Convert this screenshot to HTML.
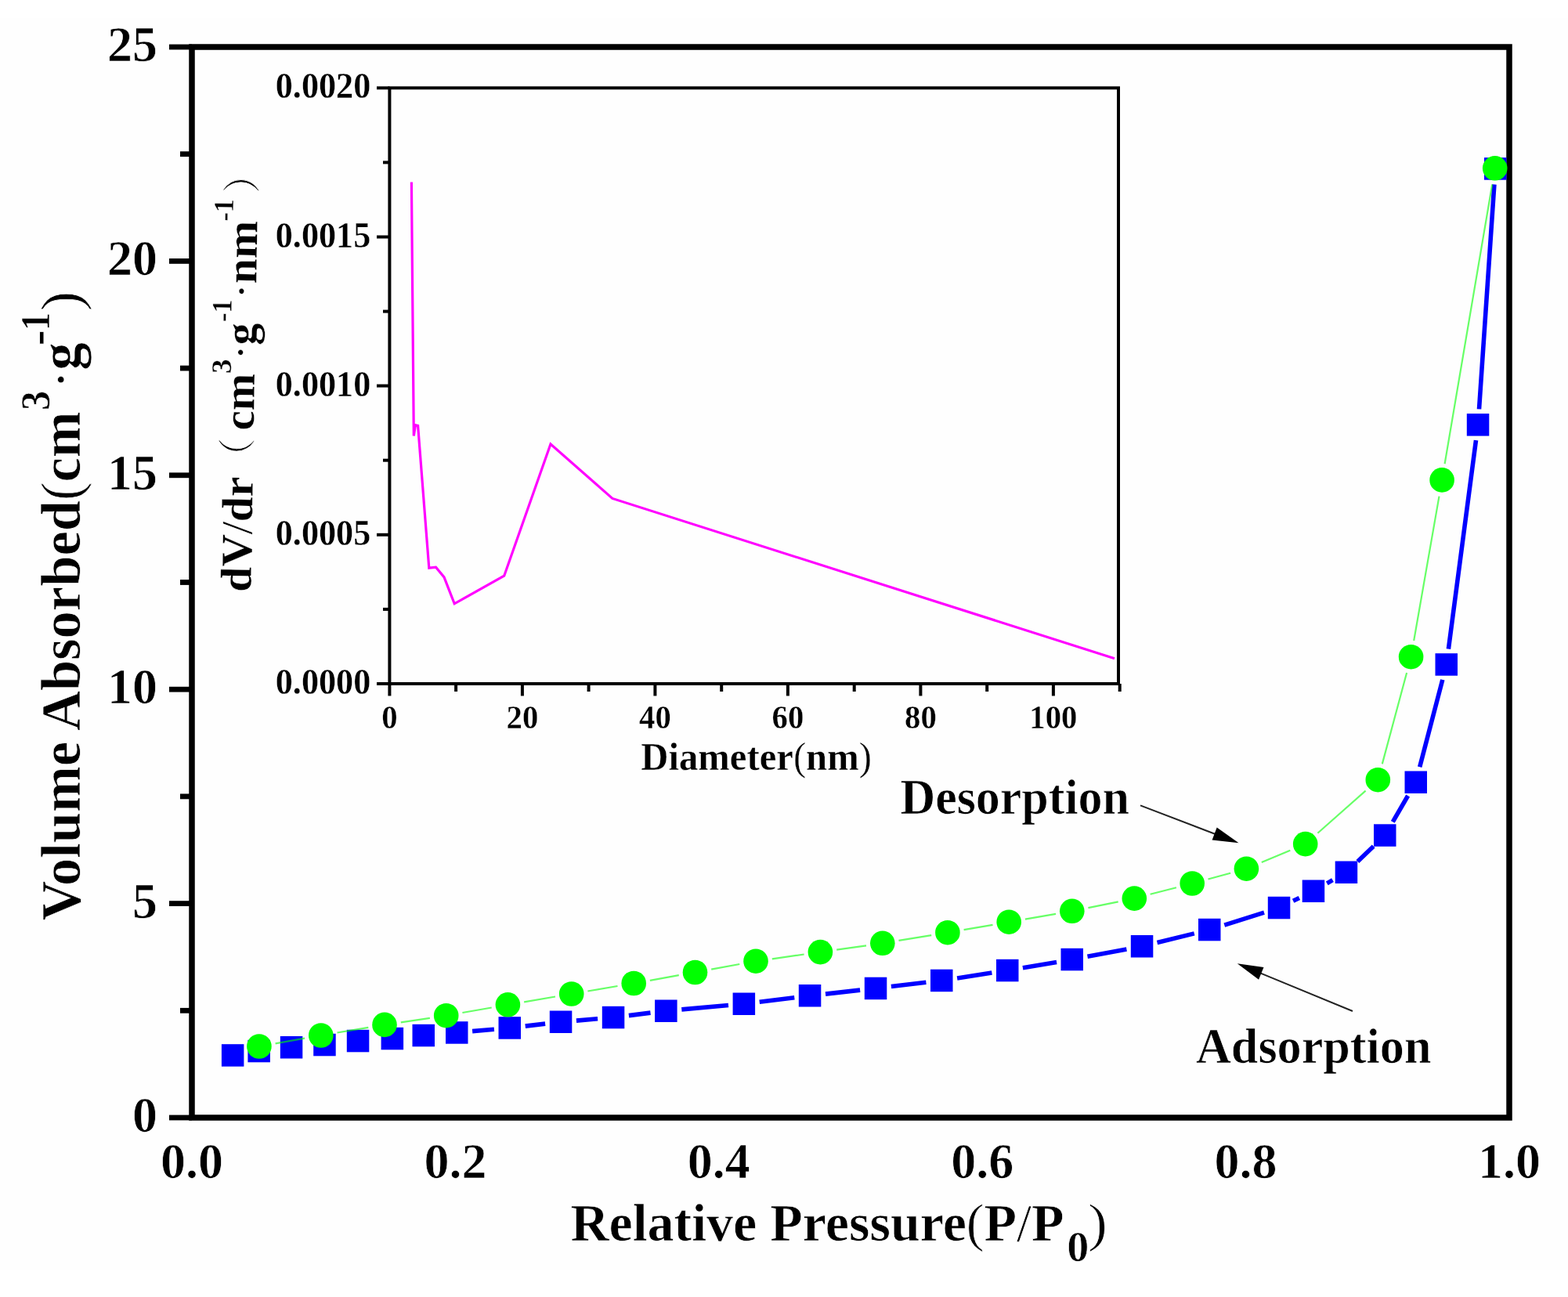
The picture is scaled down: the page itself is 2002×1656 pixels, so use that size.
<!DOCTYPE html><html><head><meta charset="utf-8"><title>Adsorption isotherm</title><style>
html,body{margin:0;padding:0;background:#fff;overflow:hidden;}
svg{display:block;filter:blur(0.6px);}
text{font-family:"Liberation Serif","Noto Serif CJK SC",serif;font-weight:bold;fill:#000;stroke:#fefefe;stroke-width:0.7px;}
.cjk{font-family:"Noto Serif CJK SC","Liberation Serif",serif;font-weight:normal;}
.thin{font-weight:normal;}
.sm{stroke-width:0.3px;}
</style></head><body>
<svg width="2002" height="1656" viewBox="0 0 2002 1656">
<rect x="0" y="0" width="2002" height="1656" fill="#ffffff"/>
<rect x="0" y="23" width="2002" height="1599" fill="#fefefe"/>
<g stroke="#000" stroke-width="7.5" fill="none">
<rect x="245.0" y="60.0" width="1682.0" height="1367.0"/>
</g><g stroke="#000" stroke-width="6.8" fill="none">
<line x1="216" y1="1427.0" x2="245.0" y2="1427.0"/>
<line x1="216" y1="1153.6" x2="245.0" y2="1153.6"/>
<line x1="216" y1="880.2" x2="245.0" y2="880.2"/>
<line x1="216" y1="606.8" x2="245.0" y2="606.8"/>
<line x1="216" y1="333.4" x2="245.0" y2="333.4"/>
<line x1="216" y1="60.0" x2="245.0" y2="60.0"/>
<line x1="230" y1="1290.3" x2="245.0" y2="1290.3"/>
<line x1="230" y1="1016.9" x2="245.0" y2="1016.9"/>
<line x1="230" y1="743.5" x2="245.0" y2="743.5"/>
<line x1="230" y1="470.1" x2="245.0" y2="470.1"/>
<line x1="230" y1="196.7" x2="245.0" y2="196.7"/>
</g>
<g font-size="64" text-anchor="end">
<text x="201" y="1445.0">0</text>
<text x="201" y="1171.6">5</text>
<text x="201" y="898.2">10</text>
<text x="201" y="624.8">15</text>
<text x="201" y="351.4">20</text>
<text x="201" y="78.0">25</text>
</g>
<g font-size="64" text-anchor="middle">
<text x="245.0" y="1504.3">0.0</text>
<text x="581.4" y="1504.3">0.2</text>
<text x="917.8" y="1504.3">0.4</text>
<text x="1254.2" y="1504.3">0.6</text>
<text x="1590.6" y="1504.3">0.8</text>
<text x="1927.0" y="1504.3">1.0</text>
</g>
<text x="728.4" y="1583.5" font-size="68"  >Relative Pressure<tspan class="thin">(</tspan>P<tspan class="thin">/</tspan>P</text>
<g transform="translate(1362.26,1609.8) scale(1.0217,1)"><text x="0" y="0" font-size="55"  >0</text></g>
<g transform="translate(1389.08,1583.5) scale(1.1118,1)"><text x="0" y="0" font-size="67"  ><tspan class="thin">)</tspan></text></g>
<g transform="translate(101.6,1175.49) rotate(-90) scale(0.9940,1)"><text x="0" y="0" font-size="71"  >Volume Absorbed<tspan class="thin">(</tspan>cm</text></g>
<g transform="translate(63.2,523.9) rotate(-90) scale(0.9478,1)"><text x="0" y="0" font-size="53"  >3</text></g>
<g transform="translate(101.6,496.5) rotate(-90)"><text x="0" y="0" font-size="71"  ><tspan class="thin">·</tspan>g</text></g>
<g transform="translate(67.8,441.41) rotate(-90) scale(1.1571,1.2000)"><text x="0" y="0" font-size="53"  >-</text></g>
<g transform="translate(63.2,422) rotate(-90) scale(0.8750,1)"><text x="0" y="0" font-size="53"  >1</text></g>
<g transform="translate(101.6,397.14) rotate(-90) scale(1.0722,1)"><text x="0" y="0" font-size="71"  ><tspan class="thin">)</tspan></text></g>
<g stroke="#000" stroke-width="4" fill="none">
<rect x="497.4" y="112.3" width="930.6" height="760.7"/>
<line x1="481" y1="873.0" x2="497.4" y2="873.0"/>
<line x1="481" y1="682.8" x2="497.4" y2="682.8"/>
<line x1="481" y1="492.6" x2="497.4" y2="492.6"/>
<line x1="481" y1="302.5" x2="497.4" y2="302.5"/>
<line x1="481" y1="112.3" x2="497.4" y2="112.3"/>
<line x1="489" y1="777.9" x2="497.4" y2="777.9"/>
<line x1="489" y1="587.7" x2="497.4" y2="587.7"/>
<line x1="489" y1="397.6" x2="497.4" y2="397.6"/>
<line x1="489" y1="207.4" x2="497.4" y2="207.4"/>
<line x1="497.4" y1="873.0" x2="497.4" y2="888.5"/>
<line x1="666.9" y1="873.0" x2="666.9" y2="888.5"/>
<line x1="836.4" y1="873.0" x2="836.4" y2="888.5"/>
<line x1="1005.9" y1="873.0" x2="1005.9" y2="888.5"/>
<line x1="1175.4" y1="873.0" x2="1175.4" y2="888.5"/>
<line x1="1344.9" y1="873.0" x2="1344.9" y2="888.5"/>
<line x1="582.1" y1="873.0" x2="582.1" y2="883"/>
<line x1="751.6" y1="873.0" x2="751.6" y2="883"/>
<line x1="921.2" y1="873.0" x2="921.2" y2="883"/>
<line x1="1090.7" y1="873.0" x2="1090.7" y2="883"/>
<line x1="1260.2" y1="873.0" x2="1260.2" y2="883"/>
<line x1="1429.7" y1="873.0" x2="1429.7" y2="883"/>
</g>
<g transform="translate(473.3,886.0) scale(0.961,1)"><text class="sm" x="0" y="0" font-size="46" text-anchor="end">0.0000</text></g>
<g transform="translate(473.3,695.8) scale(0.961,1)"><text class="sm" x="0" y="0" font-size="46" text-anchor="end">0.0005</text></g>
<g transform="translate(473.3,505.6) scale(0.961,1)"><text class="sm" x="0" y="0" font-size="46" text-anchor="end">0.0010</text></g>
<g transform="translate(473.3,315.5) scale(0.961,1)"><text class="sm" x="0" y="0" font-size="46" text-anchor="end">0.0015</text></g>
<g transform="translate(473.3,125.3) scale(0.961,1)"><text class="sm" x="0" y="0" font-size="46" text-anchor="end">0.0020</text></g>
<g transform="translate(497.4,929.8) scale(0.97,1)"><text class="sm" x="0" y="0" font-size="42" text-anchor="middle">0</text></g>
<g transform="translate(666.9,929.8) scale(0.97,1)"><text class="sm" x="0" y="0" font-size="42" text-anchor="middle">20</text></g>
<g transform="translate(836.4,929.8) scale(0.97,1)"><text class="sm" x="0" y="0" font-size="42" text-anchor="middle">40</text></g>
<g transform="translate(1005.9,929.8) scale(0.97,1)"><text class="sm" x="0" y="0" font-size="42" text-anchor="middle">60</text></g>
<g transform="translate(1175.4,929.8) scale(0.97,1)"><text class="sm" x="0" y="0" font-size="42" text-anchor="middle">80</text></g>
<g transform="translate(1344.9,929.8) scale(0.97,1)"><text class="sm" x="0" y="0" font-size="42" text-anchor="middle">100</text></g>
<g transform="translate(818.33,982.8) scale(0.9736,1)"><text x="0" y="0" font-size="50" class="sm" >Diameter<tspan class="thin">(</tspan>nm<tspan class="thin">)</tspan></text></g>
<g transform="translate(320.27,755.96) rotate(-89.0) scale(1.0279,1)"><text x="0" y="0" font-size="56" class="sm" >dV<tspan class="thin">/</tspan>dr</text></g>
<g transform="translate(319.84,608.3) rotate(-89.0)"><text x="0" y="0" font-size="49" class="cjk" >（</text></g>
<g transform="translate(323.86,549.83) rotate(-89.0) scale(1.0162,1)"><text x="0" y="0" font-size="56" class="sm" >cm</text></g>
<g transform="translate(294.63,477.23) rotate(-89.0) scale(1.0312,1)"><text x="0" y="0" font-size="36" class="sm" >3</text></g>
<g transform="translate(325.44,459.5) rotate(-89.0)"><text x="0" y="0" font-size="56" class="sm" ><tspan class="thin">·</tspan>g</text></g>
<g transform="translate(295.28,411.26) rotate(-89.0) scale(0.9630,1)"><text x="0" y="0" font-size="36" class="sm" >-1</text></g>
<g transform="translate(326.8,381.7) rotate(-89.0) scale(1.0337,1)"><text x="0" y="0" font-size="56" class="sm" ><tspan class="thin">·</tspan>nm</text></g>
<g transform="translate(297.53,282.54) rotate(-89.0) scale(0.9370,1)"><text x="0" y="0" font-size="36" class="sm" >-1</text></g>
<g transform="translate(326.15,247) rotate(-89.0)"><text x="0" y="0" font-size="49" class="cjk" >）</text></g>
<polyline points="525.4,232.5 528.3,556.5 530.4,542.8 533.6,543.6 547.8,725.2 556.5,724.2 567.0,736.9 580.2,770.8 643.7,735.2 703.0,567.0 781.9,636.4 1423.0,840.8" fill="none" stroke="#ff00ff" stroke-width="3.2" stroke-linejoin="miter"/>
<path d="M603.1,1316.6L630.9,1314.2M670.7,1310.1L696.1,1307.1M735.9,1303.1L763.1,1300.7M802.9,1296.6L830.5,1293.1M870.3,1288.9L930.0,1283.5M969.7,1279.2L1014.3,1273.8M1054.0,1269.1L1098.1,1264.1M1137.9,1259.5L1182.4,1254.3M1222.1,1248.9L1266.4,1242.1M1305.9,1235.7L1349.1,1228.4M1388.5,1221.3L1438.4,1212.0M1477.5,1203.5L1524.8,1191.9M1563.3,1181.1L1614.0,1165.1M1651.1,1150.3L1658.9,1146.5M1694.3,1127.8L1701.5,1123.6M1733.4,1099.9L1753.7,1080.4M1778.3,1049.3L1797.6,1016.0M1812.7,979.3L1841.8,867.9M1849.4,828.7L1884.5,562.2M1888.5,522.4L1907.9,235.5" fill="none" stroke="#0000ff" stroke-width="5.6"/>
<rect x="282.9" y="1333.2" width="28.5" height="28.5" fill="#0000ff"/>
<rect x="316.4" y="1327.8" width="28.5" height="28.5" fill="#0000ff"/>
<rect x="357.8" y="1323.0" width="28.5" height="28.5" fill="#0000ff"/>
<rect x="400.2" y="1319.8" width="28.5" height="28.5" fill="#0000ff"/>
<rect x="442.8" y="1314.8" width="28.5" height="28.5" fill="#0000ff"/>
<rect x="486.6" y="1311.8" width="28.5" height="28.5" fill="#0000ff"/>
<rect x="526.5" y="1307.8" width="28.5" height="28.5" fill="#0000ff"/>
<rect x="569.0" y="1304.2" width="28.5" height="28.5" fill="#0000ff"/>
<rect x="636.5" y="1298.2" width="28.5" height="28.5" fill="#0000ff"/>
<rect x="701.8" y="1290.5" width="28.5" height="28.5" fill="#0000ff"/>
<rect x="768.8" y="1284.8" width="28.5" height="28.5" fill="#0000ff"/>
<rect x="836.1" y="1276.5" width="28.5" height="28.5" fill="#0000ff"/>
<rect x="935.6" y="1267.5" width="28.5" height="28.5" fill="#0000ff"/>
<rect x="1019.8" y="1257.0" width="28.5" height="28.5" fill="#0000ff"/>
<rect x="1103.8" y="1247.7" width="28.5" height="28.5" fill="#0000ff"/>
<rect x="1188.0" y="1237.7" width="28.5" height="28.5" fill="#0000ff"/>
<rect x="1272.0" y="1224.8" width="28.5" height="28.5" fill="#0000ff"/>
<rect x="1354.5" y="1210.8" width="28.5" height="28.5" fill="#0000ff"/>
<rect x="1443.8" y="1194.0" width="28.5" height="28.5" fill="#0000ff"/>
<rect x="1530.0" y="1172.8" width="28.5" height="28.5" fill="#0000ff"/>
<rect x="1618.8" y="1144.8" width="28.5" height="28.5" fill="#0000ff"/>
<rect x="1662.7" y="1123.5" width="28.5" height="28.5" fill="#0000ff"/>
<rect x="1704.7" y="1099.5" width="28.5" height="28.5" fill="#0000ff"/>
<rect x="1754.0" y="1052.3" width="28.5" height="28.5" fill="#0000ff"/>
<rect x="1793.5" y="984.5" width="28.5" height="28.5" fill="#0000ff"/>
<rect x="1832.5" y="834.2" width="28.5" height="28.5" fill="#0000ff"/>
<rect x="1872.8" y="528.1" width="28.5" height="28.5" fill="#0000ff"/>
<rect x="1895.0" y="201.2" width="28.5" height="28.5" fill="#0000ff"/>
<path d="M351.6,1332.3L389.1,1325.7M430.5,1318.5L470.3,1311.9M511.8,1305.3L548.9,1299.8M590.4,1293.0L627.7,1286.5M669.1,1279.3L709.0,1272.5M750.4,1265.5L788.5,1259.0M829.9,1251.8L866.8,1245.2M908.2,1237.7L944.3,1231.0M985.8,1224.3L1026.6,1218.5M1068.2,1212.6L1106.0,1207.3M1147.5,1200.9L1189.2,1194.1M1230.6,1187.1L1267.5,1180.8M1308.9,1173.6L1348.1,1166.9M1389.4,1159.1L1427.7,1151.3M1468.6,1141.8L1501.9,1133.3M1542.5,1122.5L1571.1,1114.7M1610.8,1101.1L1647.3,1085.7M1682.4,1063.7L1743.6,1009.6M1764.8,975.4L1796.1,859.0M1805.2,818.0L1837.5,633.6M1844.6,592.2L1905.2,235.5" fill="none" stroke="#00ff00" stroke-opacity="0.6" stroke-width="2.2"/>
<circle cx="330.9" cy="1336.0" r="15.8" fill="#00ff00"/>
<circle cx="409.8" cy="1322.0" r="15.8" fill="#00ff00"/>
<circle cx="491.0" cy="1308.4" r="15.8" fill="#00ff00"/>
<circle cx="569.7" cy="1296.7" r="15.8" fill="#00ff00"/>
<circle cx="648.4" cy="1282.8" r="15.8" fill="#00ff00"/>
<circle cx="729.7" cy="1269.0" r="15.8" fill="#00ff00"/>
<circle cx="809.2" cy="1255.5" r="15.8" fill="#00ff00"/>
<circle cx="887.5" cy="1241.5" r="15.8" fill="#00ff00"/>
<circle cx="965.0" cy="1227.2" r="15.8" fill="#00ff00"/>
<circle cx="1047.4" cy="1215.6" r="15.8" fill="#00ff00"/>
<circle cx="1126.8" cy="1204.3" r="15.8" fill="#00ff00"/>
<circle cx="1209.9" cy="1190.7" r="15.8" fill="#00ff00"/>
<circle cx="1288.2" cy="1177.2" r="15.8" fill="#00ff00"/>
<circle cx="1368.8" cy="1163.3" r="15.8" fill="#00ff00"/>
<circle cx="1448.3" cy="1147.1" r="15.8" fill="#00ff00"/>
<circle cx="1522.2" cy="1128.0" r="15.8" fill="#00ff00"/>
<circle cx="1591.4" cy="1109.2" r="15.8" fill="#00ff00"/>
<circle cx="1666.7" cy="1077.6" r="15.8" fill="#00ff00"/>
<circle cx="1759.3" cy="995.7" r="15.8" fill="#00ff00"/>
<circle cx="1801.6" cy="838.7" r="15.8" fill="#00ff00"/>
<circle cx="1841.1" cy="612.9" r="15.8" fill="#00ff00"/>
<circle cx="1908.7" cy="214.8" r="15.8" fill="#00ff00"/>
<g transform="translate(1149.41,1039) scale(0.9918,1)"><text x="0" y="0" font-size="62.5"  >Desorption</text></g>
<g transform="translate(1526.91,1356.6) scale(0.9950,1)"><text x="0" y="0" font-size="62.5"  >Adsorption</text></g>
<line x1="1456" y1="1028.4" x2="1554.4" y2="1066.0" stroke="#222" stroke-width="2"/>
<polygon points="1581.5,1076.3 1547.6,1072.5 1553.7,1056.6" fill="#000"/>
<line x1="1727" y1="1291" x2="1606.6" y2="1241.4" stroke="#222" stroke-width="2"/>
<polygon points="1579.8,1230.3 1613.5,1235.0 1607.1,1250.7" fill="#000"/>
</svg></body></html>
